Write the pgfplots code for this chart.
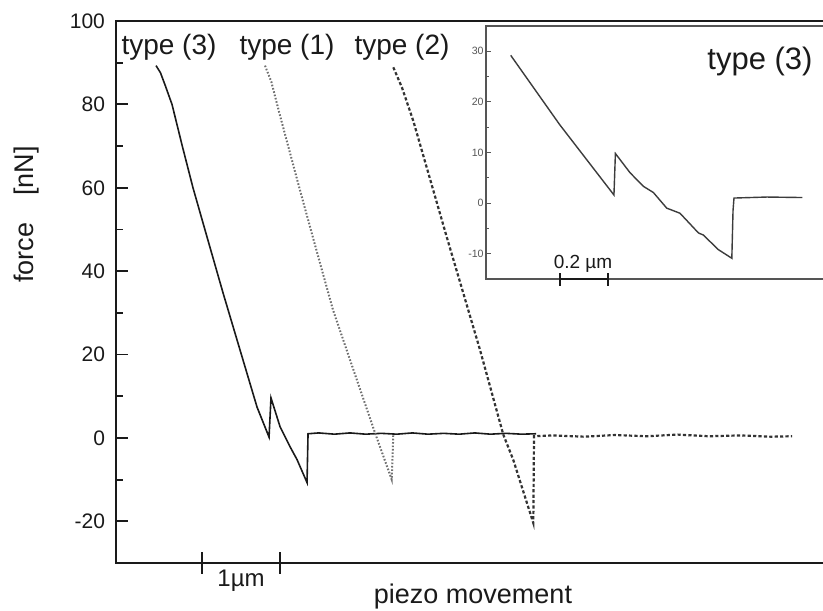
\documentclass[border=0pt]{standalone}
\usepackage{fontspec}
\setmainfont{Liberation Sans}
\usepackage{pgfplots}
\pgfplotsset{compat=1.18}
\definecolor{ink}{HTML}{1A1A1A}
\definecolor{tyone}{HTML}{707070}
\definecolor{tytwo}{HTML}{333333}
\definecolor{insetframe}{HTML}{555555}
\begin{document}
\begin{tikzpicture}
% ---------------- main axis ----------------
\begin{axis}[
  at={(58pt,-281.5pt)}, anchor=south west,
  scale only axis, width=357pt, height=271pt,
  xmin=0, xmax=9.154, ymin=-30, ymax=100,
  xtick=\empty,
  ytick={-20,0,20,40,60,80,100},
  minor y tick num=1,
  ytick pos=left, tick align=inside,
  major tick length=6pt, minor tick length=3.5pt,
  axis line style={line width=1pt, ink},
  every tick/.style={ink, line width=0.9pt},
  tick label style={font=\fontsize{10.5}{12}\selectfont, text=ink},
  /pgf/number format/assume math mode=true,
  yticklabel style={xshift=-2pt},
  ylabel={force\quad[nN]},
  ylabel style={font=\fontsize{13.5}{15}\selectfont, text=ink,
    at={(axis description cs:-0.1162,0.643)}, anchor=base},
  xlabel={piezo movement},
  xlabel style={font=\fontsize{13.5}{15}\selectfont, text=ink,
    at={(axis description cs:0.5,-0.0738)}, anchor=base},
  clip=false,
]
% type (3): solid black
\addplot[ink, line width=0.8pt] coordinates {
 (0.513,89.3) (0.570,87.6) (0.630,84.6) (0.718,80.0) (0.850,70.0)
 (0.987,60.0) (1.167,48.2)
 (1.372,34.8) (1.590,21.1) (1.808,7.4) (1.962,0.2) (1.987,9.6)
 (2.103,2.7) (2.231,-2.1) (2.321,-5.2) (2.449,-10.7) (2.462,1.0)
 (2.6,1.2) (2.8,0.9) (3.0,1.2) (3.2,0.9) (3.4,1.1) (3.6,0.9)
 (3.8,1.2) (4.0,0.9) (4.2,1.1) (4.4,0.9) (4.6,1.2) (4.8,0.9)
 (5.0,1.1) (5.2,0.9) (5.385,1.0)
};
% type (1): dotted grey
\addplot[tyone, line width=1pt, dash pattern=on 0.8pt off 0.9pt] coordinates {
 (1.910,89.3) (1.990,85.5) (2.100,77.5) (2.359,59.4) (2.570,45.0) (2.782,30.7)
 (3.050,16.0) (3.321,1.2) (3.535,-10.0) (3.555,0.8)
};
% type (2): dashed dark grey
\addplot[tytwo, line width=1.1pt, dash pattern=on 1.6pt off 1.1pt] coordinates {
 (3.555,88.9) (3.667,84.0) (3.812,76.0) (4.240,48.2) (4.667,21.1) (4.965,0.8)
 (5.094,-5.3) (5.350,-20.4) (5.359,0.4)
 (5.6,0.6) (6.0,0.3) (6.4,0.7) (6.8,0.4) (7.2,0.8) (7.6,0.4)
 (8.0,0.6) (8.4,0.3) (8.667,0.4)
};
\end{axis}
% ---------------- inset axis ----------------
\begin{axis}[
  at={(243pt,-139.5pt)}, anchor=south west,
  scale only axis, width=172pt, height=126.5pt,
  xmin=0, xmax=1.433, ymin=-15, ymax=35,
  xtick=\empty,
  ytick={-10,0,10,20,30},
  minor y tick num=1,
  ytick pos=left, tick align=inside,
  major tick length=2.5pt, minor tick length=1.5pt,
  axis line style={line width=0.7pt, insetframe},
  every tick/.style={insetframe, line width=0.5pt},
  tick label style={font=\fontsize{5.3}{6}\selectfont, text=insetframe, inner sep=1pt},
  /pgf/number format/assume math mode=true,
  axis background/.style={fill=white},
]
\addplot[ink!85, line width=0.7pt] coordinates {
 (0.103,29.2) (0.307,15.5) (0.533,1.6) (0.539,9.8) (0.600,6.0) (0.656,3.3)
 (0.697,2.1) (0.753,-1.0) (0.808,-2.0) (0.885,-5.9) (0.905,-6.3)
 (0.968,-9.2) (1.024,-10.9) (1.029,-1.5) (1.033,1.0) (1.170,1.2)
 (1.318,1.1)
};
\end{axis}
% ---------------- annotations ----------------
\node[font=\fontsize{14}{16}\selectfont, text=ink, anchor=base] at (84.5pt,-27.5pt) {type (3)};
\node[font=\fontsize{14}{16}\selectfont, text=ink, anchor=base] at (143.5pt,-27.5pt) {type (1)};
\node[font=\fontsize{14}{16}\selectfont, text=ink, anchor=base] at (201pt,-27.5pt) {type (2)};
\node[font=\fontsize{15.5}{18}\selectfont, text=ink, anchor=base] at (380pt,-35pt) {type (3)};
% main scale bar
\draw[ink, line width=1pt] (101pt,-281.5pt) -- (140pt,-281.5pt);
\draw[ink, line width=1.2pt] (101pt,-276pt) -- (101pt,-287pt);
\draw[ink, line width=1.2pt] (140pt,-276pt) -- (140pt,-287pt);
\node[font=\fontsize{12}{14}\selectfont, text=ink, anchor=base] at (120.5pt,-293.3pt) {1µm};
% inset scale bar
\draw[ink, line width=0.8pt] (280pt,-139.5pt) -- (304pt,-139.5pt);
\draw[ink, line width=0.8pt] (280pt,-136.5pt) -- (280pt,-143pt);
\draw[ink, line width=0.8pt] (304pt,-136.5pt) -- (304pt,-143pt);
\node[font=\fontsize{9.5}{11}\selectfont, text=ink, anchor=base] at (291.5pt,-134pt) {0.2 µm};
\pgfresetboundingbox
\useasboundingbox (0pt,0pt) rectangle (411.5pt,-305pt);
\end{tikzpicture}
\end{document}
